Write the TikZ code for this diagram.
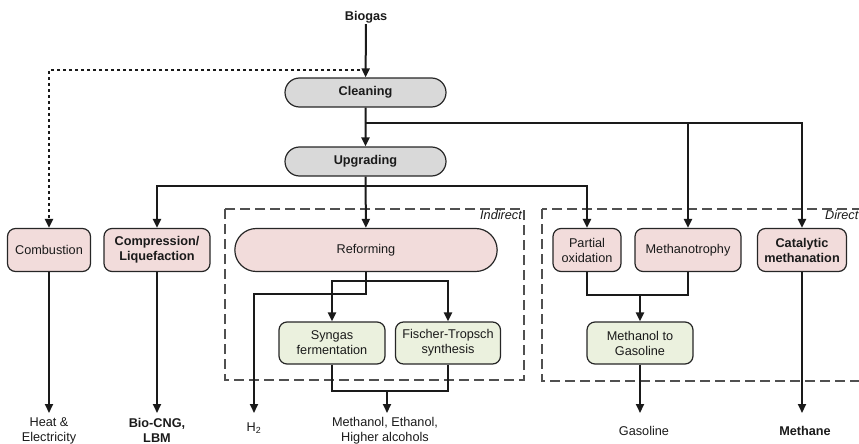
\documentclass[tikz,border=0pt]{standalone}
\usepackage{fontspec}
\setmainfont{Liberation Sans}
\usetikzlibrary{arrows.meta,shapes.misc}

\definecolor{procred}{HTML}{F2DCDB}
\definecolor{procgreen}{HTML}{EBF1DE}
\definecolor{procgray}{HTML}{D9D9D9}
\definecolor{edge}{HTML}{262626}
\definecolor{ink}{HTML}{1A1A1A}
\definecolor{groupline}{HTML}{505050}
\newcommand\dfont{\fontsize{12.7}{15}\selectfont}

\tikzset{
  flow/.style={draw=ink, line width=2pt, -{Triangle[length=9pt,width=8pt]}},
  link/.style={draw=ink, line width=2pt},
  dotflow/.style={draw=ink, line width=2pt, dash pattern=on 3pt off 3pt,
    -{Triangle[length=9pt,width=8pt]}},
  groupbox/.style={draw=groupline, line width=1.4pt, dash pattern=on 10pt off 5pt},
  stagebox/.style={rounded rectangle, draw=edge, line width=1.2pt, fill=procgray,
    minimum width=165pt, minimum height=29pt, inner sep=2pt, font=\dfont\bfseries},
  redbox/.style={rectangle, rounded corners=8pt, draw=edge, line width=1.2pt,
    fill=procred, minimum height=43pt, inner sep=2pt, align=center},
  greenbox/.style={rectangle, rounded corners=8pt, draw=edge, line width=1.2pt,
    fill=procgreen, minimum height=42pt, inner sep=2pt, align=center},
  outtext/.style={align=center, inner sep=0pt},
  bold/.style={font=\dfont\bfseries}
}

\begin{document}
\begin{tikzpicture}[x=1pt, y=-1pt, font=\dfont, text=ink]
\useasboundingbox (0,0) rectangle (859,444);

% grouping frames
\draw[groupbox] (225,209) rectangle (524,380);
\node[anchor=north east, inner sep=1pt, font=\dfont\itshape] (lblind) at (523,209) {Indirect};
\draw[groupbox] (542,209) rectangle (890,381);
\node[anchor=north west, inner sep=1pt, font=\dfont\itshape] (lbldir) at (824,209) {Direct};

% source and pretreatment
\node[bold, inner sep=1pt] (biogas) at (366,17) {Biogas};
\node[stagebox] (clean) at (365.5,92.5) {Cleaning};
\node[stagebox] (upg) at (365.5,161.5) {Upgrading};

% conversion routes
\node[redbox, minimum width=83pt] (comb) at (49,250) {Combustion};
\node[redbox, minimum width=106pt, font=\dfont\bfseries] (comp) at (157,250) {Compression/\\Liquefaction};
\node[rounded rectangle, draw=edge, line width=1.2pt, fill=procred,
      minimum width=269pt, minimum height=43pt] (ref) at (366,250) {Reforming};
\node[redbox, minimum width=68pt] (pox) at (587,250) {Partial\\oxidation};
\node[redbox, minimum width=106pt] (mtp) at (688,250) {Methanotrophy};
\node[redbox, minimum width=89pt, font=\dfont\bfseries] (cat) at (802,250) {Catalytic\\methanation};

\node[greenbox, minimum width=106pt] (syn) at (332,343) {Syngas\\fermentation};
\node[greenbox, minimum width=105pt] (ft) at (448,343) {Fischer-Tropsch\\synthesis};
\node[greenbox, minimum width=106pt] (mtg) at (640,343) {Methanol to\\Gasoline};

% products
\node[outtext] (heat) at (49,430.5) {Heat \&\\Electricity};
\node[outtext, font=\dfont\bfseries] (cng) at (157,430.5) {Bio-CNG,\\LBM};
\node[outtext] (h2) at (254,428) {H\textsubscript{2}};
\node[outtext] (alc) at (385,431) {Methanol, Ethanol,\\Higher alcohols};
\node[outtext] (gas) at (644,431) {Gasoline};
\node[outtext, font=\dfont\bfseries] (meth) at (805,431) {Methane};

% branch points and arrow ends
\coordinate (split) at (366,70);
\coordinate (cb) at (366,123);
\coordinate (ub) at (366,186);
\coordinate (rb1) at (366,281);
\coordinate (rb2) at (366,294);
\coordinate (jA) at (387,391);
\coordinate (jB) at (640,295);
\coordinate (tHeat) at (49,413);
\coordinate (tCng) at (157,413);
\coordinate (tH2) at (254,413);
\coordinate (tAlc) at (387,413);
\coordinate (tGas) at (640,413);
\coordinate (tMeth) at (802,413);

% main line
\draw[flow] (biogas) -- (clean);
\draw[dotflow] (split) -| (comb.north);
\draw[flow] (clean) -- (upg);
\draw[flow] (cb) -| (mtp.north);
\draw[flow] (cb) -| (cat.north);
\draw[flow] (upg) -- (ref);
\draw[flow] (ub) -| (comp.north);
\draw[flow] (ub) -| (pox.north);

% indirect route
\draw[flow] (ref.south) -- (rb2) -| (tH2);
\draw[flow] (rb1) -| (syn.north);
\draw[flow] (rb1) -| (ft.north);
\draw[link] (syn.south) |- (jA);
\draw[link] (ft.south) |- (jA);
\draw[flow] (jA) -- (tAlc);

% direct route
\draw[link] (pox.south) |- (jB);
\draw[link] (mtp.south) |- (jB);
\draw[flow] (jB) -- (mtg.north);
\draw[flow] (mtg.south) -- (tGas);
\draw[flow] (cat.south) -- (tMeth);

% end uses
\draw[flow] (comb.south) -- (tHeat);
\draw[flow] (comp.south) -- (tCng);
\end{tikzpicture}
\end{document}
